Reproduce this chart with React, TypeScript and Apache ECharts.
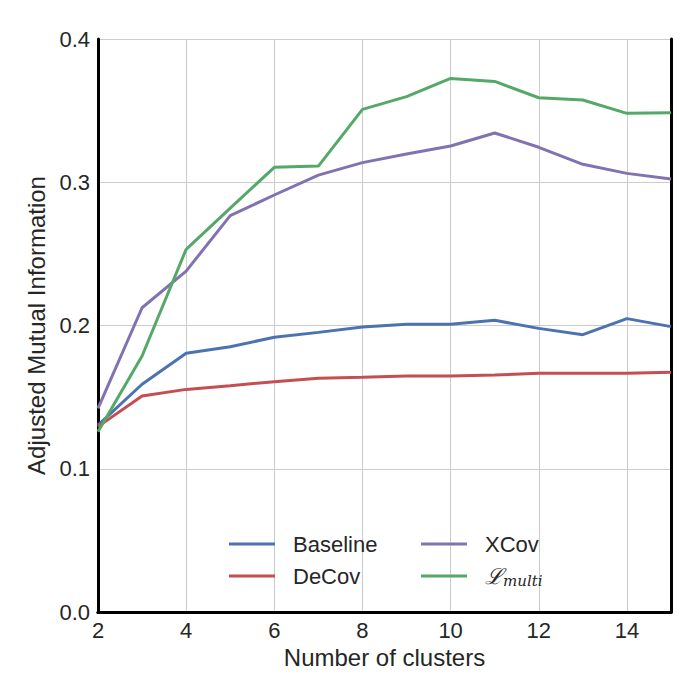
import React, { useEffect, useRef } from "react";
import * as echarts from "echarts";

const clusters = [2, 3, 4, 5, 6, 7, 8, 9, 10, 11, 12, 13, 14, 15];
const baseline = [0.1305, 0.159, 0.1806, 0.1852, 0.1918, 0.1952, 0.199, 0.2008, 0.2008, 0.2036, 0.198, 0.1936, 0.2048, 0.1992];
const decov = [0.1294, 0.1508, 0.1554, 0.158, 0.1608, 0.1631, 0.1638, 0.1647, 0.1647, 0.1654, 0.1666, 0.1666, 0.1666, 0.1673];
const xcov = [0.1422, 0.2124, 0.238, 0.2767, 0.2911, 0.305, 0.3137, 0.3197, 0.3253, 0.3344, 0.3244, 0.3125, 0.3062, 0.3023];
const lmulti = [0.1259, 0.1787, 0.2532, 0.282, 0.3104, 0.3113, 0.3509, 0.3598, 0.3725, 0.3704, 0.359, 0.3574, 0.3481, 0.3486];

const seriesDefs = [
  { name: "Baseline", data: baseline, color: "#4C72B0" },
  { name: "DeCov", data: decov, color: "#C44E52" },
  { name: "XCov", data: xcov, color: "#8172B2" },
  { name: "ℒmulti", data: lmulti, color: "#55A868" },
];

const FONT = "Liberation Sans, Arial, sans-serif";
const TEXT = "#262626";
const FRAME = { show: true, lineStyle: { color: "#000000", width: 3 } };

export default function App() {
  const ref = useRef<HTMLDivElement>(null);
  useEffect(() => {
    if (!ref.current) return;
    const chart = echarts.init(ref.current, undefined, { renderer: "svg" });
    const legendText = {
      color: TEXT,
      fontFamily: FONT,
      fontSize: 22,
      lineHeight: 22,
      padding: [0, 0, 0, 13],
      rich: {
        l: { fontFamily: "DejaVu Serif, serif", fontStyle: "italic", fontSize: 22, color: TEXT },
        s: { fontFamily: "DejaVu Serif, serif", fontStyle: "italic", fontSize: 15, color: TEXT, padding: [9, 0, 0, 0] },
      },
    };
    const fmt = (n: string) => (n === "ℒmulti" ? "{l|ℒ}{s|multi}" : n);
    const legendBase = {
      top: 525,
      orient: "vertical",
      icon: "rect",
      itemWidth: 46,
      itemHeight: 3,
      itemGap: 10,
      padding: 0,
      formatter: fmt,
      textStyle: legendText,
    };
    chart.setOption({
      animation: false,
      backgroundColor: "#ffffff",
      grid: { left: 90, right: 21, top: 31, bottom: 80, containLabel: false },
      legend: [
        { ...legendBase, data: ["Baseline", "DeCov"], left: 221 },
        { ...legendBase, data: ["XCov", "ℒmulti"], left: 413 },
      ],
      xAxis: [
        {
          type: "value",
          min: 2,
          max: 15,
          interval: 2,
          position: "bottom",
          name: "Number of clusters",
          nameLocation: "middle",
          nameGap: 31,
          nameTextStyle: { color: TEXT, fontFamily: FONT, fontSize: 24 },
          axisLine: FRAME,
          axisTick: { show: false },
          axisLabel: { color: TEXT, fontFamily: FONT, fontSize: 22, margin: 7, showMaxLabel: false },
          splitLine: { show: true, lineStyle: { color: "#cccccc", width: 1 } },
        },
        {
          type: "value",
          min: 2,
          max: 15,
          position: "top",
          axisLine: FRAME,
          axisTick: { show: false },
          axisLabel: { show: false },
          splitLine: { show: false },
        },
      ],
      yAxis: [
        {
          type: "value",
          min: 0,
          max: 0.4,
          interval: 0.1,
          position: "left",
          name: "Adjusted Mutual Information",
          nameLocation: "middle",
          nameGap: 43,
          nameTextStyle: { color: TEXT, fontFamily: FONT, fontSize: 24 },
          axisLine: FRAME,
          axisTick: { show: false },
          axisLabel: {
            color: TEXT,
            fontFamily: FONT,
            fontSize: 22,
            margin: 8,
            formatter: (v: number) => v.toFixed(1),
          },
          splitLine: { show: true, lineStyle: { color: "#cccccc", width: 1 } },
        },
        {
          type: "value",
          min: 0,
          max: 0.4,
          position: "right",
          axisLine: FRAME,
          axisTick: { show: false },
          axisLabel: { show: false },
          splitLine: { show: false },
        },
      ],
      series: seriesDefs.map((s) => ({
        name: s.name,
        type: "line",
        xAxisIndex: 0,
        yAxisIndex: 0,
        data: clusters.map((c, i) => [c, s.data[i]]),
        showSymbol: false,
        symbol: "none",
        color: s.color,
        lineStyle: { color: s.color, width: 3 },
        itemStyle: { color: s.color },
        z: 3,
      })),
    });
    return () => chart.dispose();
  }, []);
  return <div ref={ref} style={{ width: 684, height: 684 }} />;
}
